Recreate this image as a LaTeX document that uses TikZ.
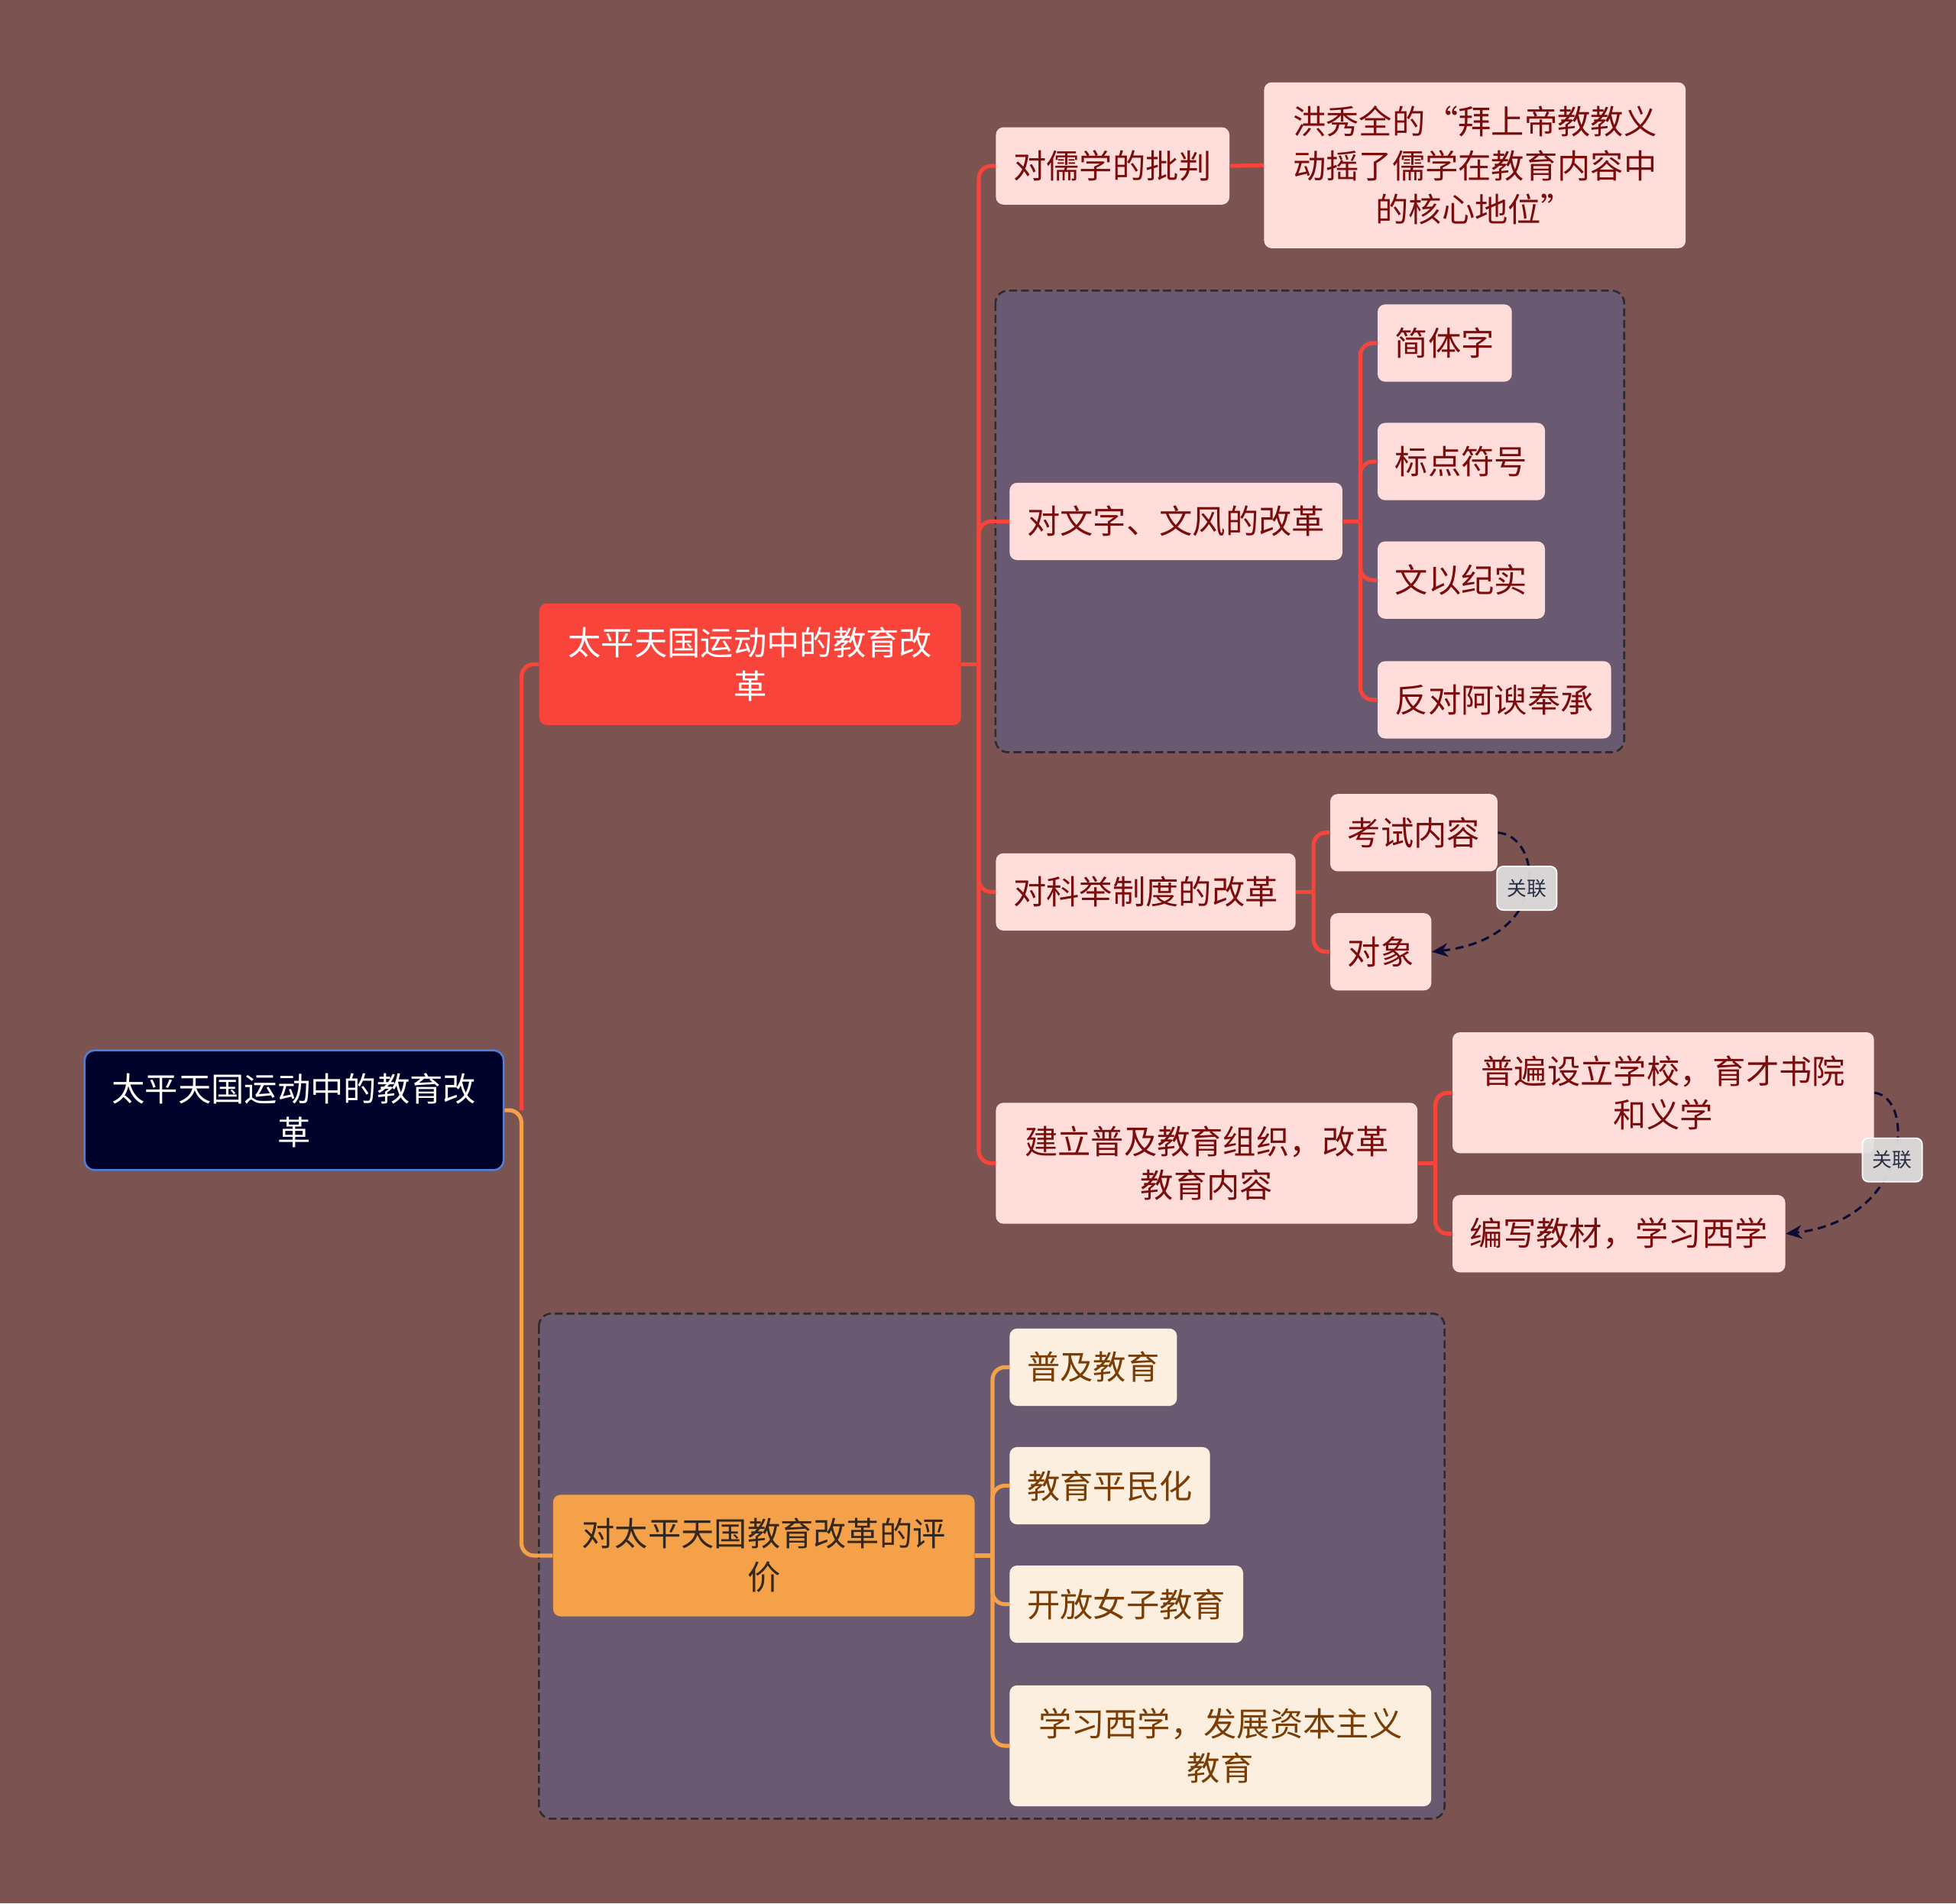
\documentclass[tikz,border=0pt]{standalone}
\usepackage{fontspec}
\setmainfont{Noto Sans CJK SC}
\usepackage{tikz}
\usetikzlibrary{arrows.meta}
\definecolor{Backdrop}{HTML}{7B5452}
\definecolor{GroupFill}{HTML}{695A72}
\definecolor{FrameInk}{HTML}{2E2A2E}
\definecolor{RootFill}{HTML}{00022A}
\definecolor{RootEdge}{HTML}{4F7FD6}
\definecolor{BranchRed}{HTML}{F8443A}
\definecolor{BranchOrange}{HTML}{F5A14A}
\definecolor{EvalInk}{HTML}{33281C}
\definecolor{Blush}{HTML}{FEDDDB}
\definecolor{BlushInk}{HTML}{7A0C0C}
\definecolor{Cream}{HTML}{FDEFDF}
\definecolor{CreamInk}{HTML}{7A3D05}
\definecolor{TagFill}{HTML}{E1DFE0}
\definecolor{TagInk}{HTML}{2A2F45}
\definecolor{RelInk}{HTML}{0B0B35}

\begin{document}
\begin{tikzpicture}[
  x=0.02cm,y=-0.02cm,
  font=\fontsize{15.1pt}{19.9pt}\selectfont,
  RootBox/.style={draw=RootEdge,line width=0.9pt,fill=RootFill,text=white,rounded corners=0.16cm,
                  align=center,minimum width=6.72cm,minimum height=1.92cm,anchor=west},
  MainBox/.style={fill=#1,rounded corners=0.12cm,align=center,minimum width=6.76cm,
                  minimum height=1.95cm,anchor=west},
  LeafBox/.style={fill=Blush,text=BlushInk,rounded corners=0.12cm,align=center,inner xsep=0.28cm,
                  inner ysep=0pt,minimum height=1.24cm,anchor=west},
  WarmBox/.style={LeafBox,fill=Cream,text=CreamInk},
  WideBox/.style={minimum width=6.76cm,minimum height=1.94cm},
  RelTag/.style={solid,fill=TagFill,fill opacity=0.93,text opacity=1,draw=white,line width=0.6pt,
                 rounded corners=0.1cm,text=TagInk,font=\fontsize{9pt}{10pt}\selectfont,
                 minimum width=0.96cm,minimum height=0.7cm,inner sep=0pt},
  RedLink/.style={draw=BranchRed,line width=1.8pt,rounded corners=0.2cm},
  OrangeLink/.style={draw=BranchOrange,line width=1.8pt,rounded corners=0.2cm},
  RelLink/.style={draw=RelInk,line width=1.05pt,dash pattern=on 3.8pt off 2.4pt,
                  -{Stealth[length=0.26cm,width=0.22cm]}},
  GroupFrame/.style={draw=FrameInk,fill=GroupFill,line width=0.9pt,dash pattern=on 3.6pt off 1.8pt,
                     rounded corners=0.2cm},
]
  \fill[Backdrop] (0,0) rectangle (1568,1526);

  \draw[GroupFrame] (798,233) rectangle (1302,603);
  \draw[GroupFrame] (432,1053) rectangle (1158,1458);

  \node[RootBox] (Root) at (67,890) {太平天国运动中的教育改\\革};
  \node[MainBox=BranchRed,text=white] (Edu) at (432,532.5) {太平天国运动中的教育改\\革};
  \node[MainBox=BranchOrange,text=EvalInk] (Eval) at (443,1247) {对太平天国教育改革的评\\价};

  \node[LeafBox] (Ru) at (798,133) {对儒学的批判};
  \node[LeafBox,minimum width=6.76cm,minimum height=2.66cm] (Hong) at (1013,132.5)
    {洪秀全的“拜上帝教教义\\动摇了儒学在教育内容中\\的核心地位”};
  \node[LeafBox] (Wenzi) at (809,418) {对文字、文风的改革};
  \node[LeafBox] (Jianti) at (1104,275) {简体字};
  \node[LeafBox] (Biaodian) at (1104,370) {标点符号};
  \node[LeafBox] (Wenyi) at (1104,465) {文以纪实};
  \node[LeafBox] (Fandui) at (1104,561) {反对阿谀奉承};
  \node[LeafBox] (Keju) at (798,715) {对科举制度的改革};
  \node[LeafBox] (Kaoshi) at (1066,667.5) {考试内容};
  \node[LeafBox] (Duixiang) at (1066,763) {对象};
  \node[LeafBox,WideBox] (Jianli) at (798,932.5) {建立普及教育组织，改革\\教育内容};
  \node[LeafBox,WideBox] (Pubian) at (1164,876) {普遍设立学校，育才书院\\和义学};
  \node[LeafBox] (Bianxie) at (1164,989) {编写教材，学习西学};

  \node[WarmBox] (Puji) at (809,1096) {普及教育};
  \node[WarmBox] (Pingmin) at (809,1191) {教育平民化};
  \node[WarmBox] (Nvzi) at (809,1286) {开放女子教育};
  \node[WarmBox,WideBox] (Xixue) at (809,1399.5) {学习西学，发展资本主义\\教育};

  \coordinate (RootJ) at (418,890);
  \draw[RedLink] (RootJ) |- (Edu.west);
  \draw[OrangeLink] (Root.east) -- (RootJ) |- (Eval.west);

  \draw[RedLink] (Edu.east) -- ++(14,0) coordinate (EduJ);
  \foreach \kid in {Ru,Wenzi,Keju,Jianli}
    \draw[RedLink] (EduJ) |- (\kid.west);
  \draw[RedLink] (Ru.east) -- (Hong.west);

  \draw[RedLink] (Wenzi.east) -- ++(14,0) coordinate (WenziJ);
  \foreach \kid in {Jianti,Biaodian,Wenyi,Fandui}
    \draw[RedLink] (WenziJ) |- (\kid.west);

  \draw[RedLink] (Keju.east) -- ++(14,0) coordinate (KejuJ);
  \foreach \kid in {Kaoshi,Duixiang}
    \draw[RedLink] (KejuJ) |- (\kid.west);

  \draw[RedLink] (Jianli.east) -- ++(14,0) coordinate (JianliJ);
  \foreach \kid in {Pubian,Bianxie}
    \draw[RedLink] (JianliJ) |- (\kid.west);

  \draw[OrangeLink] (Eval.east) -- ++(14,0) coordinate (EvalJ);
  \foreach \kid in {Puji,Pingmin,Nvzi,Xixue}
    \draw[OrangeLink] (EvalJ) |- (\kid.west);

  \draw[RelLink] (Kaoshi.east) .. controls (1236,670) and (1245,752) .. (Duixiang.east)
    node[RelTag,pos=0.5] (TagA) {关联};
  \draw[RelLink] (Pubian.east) .. controls (1536,880) and (1531,978) .. (Bianxie.east)
    node[RelTag,pos=0.5] (TagB) {关联};
\end{tikzpicture}
\end{document}
